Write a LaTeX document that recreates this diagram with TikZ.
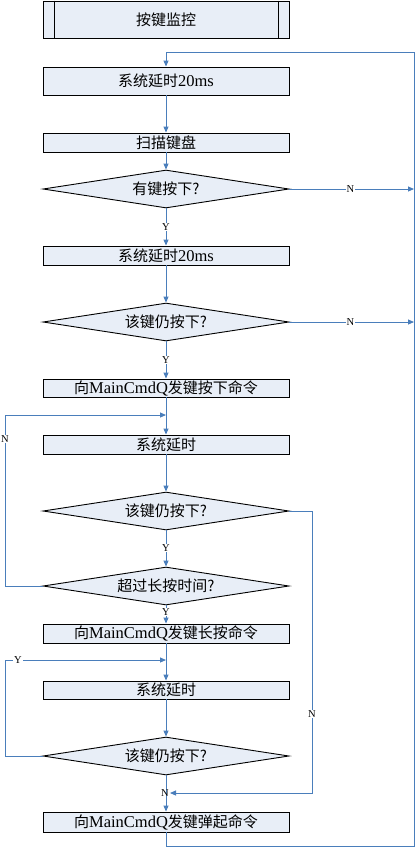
\documentclass[tikz,border=0pt]{standalone}
\usepackage{fontspec}
\setmainfont{Noto Sans CJK SC}
\newfontfamily\latfont{Liberation Serif}
\usetikzlibrary{shapes.geometric,arrows.meta}
\definecolor{boxfill}{HTML}{E8EEF7}
\definecolor{flow}{HTML}{4A7EBB}
\newcommand{\lt}[1]{{\latfont\fontsize{16.5}{18}\selectfont #1}}
\tikzset{
  stepbox/.style={draw=black, line width=0.9pt, fill=boxfill, rectangle,
    minimum width=246pt, inner sep=0pt, font=\fontsize{15}{17}\selectfont},
  test/.style={draw=black, line width=0.9pt, fill=boxfill, diamond,
    shape aspect=6.47, minimum width=246pt, minimum height=38pt, inner sep=0pt,
    font=\fontsize{15}{17}\selectfont},
  conn/.style={draw=flow, line width=0.9pt},
  arr/.style={conn, -{Triangle[length=6pt,width=5pt]}},
  yn/.style={fill=white, inner sep=0.8pt, font=\latfont\fontsize{10.5}{11}\selectfont},
}
\begin{document}
\begin{tikzpicture}[x=1pt,y=-1pt]
\useasboundingbox (0,0) rectangle (415,847);

% process steps and tests
\node[stepbox, minimum height=37pt] (top) at (166,19.5) {按键监控};
\draw[line width=0.9pt] ([xshift=12pt]top.north west) -- ([xshift=12pt]top.south west)
                        ([xshift=-11pt]top.north east) -- ([xshift=-11pt]top.south east);
\node[stepbox, minimum height=28pt] (b1) at (166,81) {系统延时\lt{20ms}};
\node[stepbox, minimum height=19pt] (b2) at (166,142.5) {扫描键盘};
\node[test] (d1) at (166,189) {有键按下?};
\node[stepbox, minimum height=19pt] (b3) at (166,255.5) {系统延时\lt{20ms}};
\node[test] (d2) at (166,322) {该键仍按下?};
\node[stepbox, minimum height=18pt] (b4) at (166,388) {向\lt{MainCmdQ}发键按下命令};
\node[stepbox, minimum height=19pt] (b5) at (166,444.5) {系统延时};
\node[test] (d3) at (166,511) {该键仍按下?};
\node[test] (d4) at (166,586) {超过长按时间?};
\node[stepbox, minimum height=19pt] (b6) at (166,633.5) {向\lt{MainCmdQ}发键长按命令};
\node[stepbox, minimum height=18pt] (b7) at (166,690) {系统延时};
\node[test] (d5) at (166,756) {该键仍按下?};
\node[stepbox, minimum height=20pt] (b8) at (166,822) {向\lt{MainCmdQ}发键弹起命令};

% routing points
\coordinate (loopBL) at (166,846);
\coordinate (loopBR) at (414,846);
\coordinate (loopTR) at (414,52);
\coordinate (loopTL) at (166,52);
\coordinate (n1) at (414,189);
\coordinate (n2) at (414,322);
\coordinate (j1) at (166,415);
\coordinate (j1L) at (5,415);
\coordinate (d4L) at (5,586);
\coordinate (j2) at (166,660);
\coordinate (j2L) at (5,660);
\coordinate (d5L) at (5,756);
\coordinate (d3R) at (312,511);
\coordinate (mR) at (312,793);
\coordinate (m) at (166,793);

% main loop back to the start
\draw[arr] (b8.south) -- (loopBL) -- (loopBR) -- (loopTR) -- (loopTL) -- (b1.north);

% straight flow
\draw[arr] (b1) -- (b2);
\draw[arr] (b2) -- (d1);
\draw[arr] (d1) -- (b3);
\node[yn] at (166,227) {Y};
\draw[arr] (b3) -- (d2);
\draw[arr] (d2) -- (b4);
\node[yn] at (166,360) {Y};
\draw[arr] (b4) -- (b5);
\draw[arr] (b5) -- (d3);
\draw[arr] (d3) -- (d4);
\node[yn] at (166,548) {Y};
\draw[arr] (d4) -- (b6);
\node[yn] at (166,612) {Y};
\draw[arr] (b6) -- (b7);
\draw[arr] (b7) -- (d5);
\draw[arr] (d5) -- (b8);

% "no key" exits to the loop
\draw[arr] (d1.east) -- node[yn, pos=0.49] {N} (n1);
\draw[arr] (d2.east) -- node[yn, pos=0.49] {N} (n2);

% hold loops
\draw[arr] (d4.west) -- (d4L) -- (j1L) -- (j1);
\node[yn] at (5,439) {N};
\draw[arr] (d5.west) -- (d5L) -- (j2L) -- (j2);
\node[yn] at (18,660) {Y};

% key released during long-press wait
\draw[arr] (d3.east) -- (d3R) -- (mR) -- ([xshift=4pt]m);
\node[yn] at (312,714) {N};
\node[yn, fill=none] at (165,793) {N};
\end{tikzpicture}
\end{document}
